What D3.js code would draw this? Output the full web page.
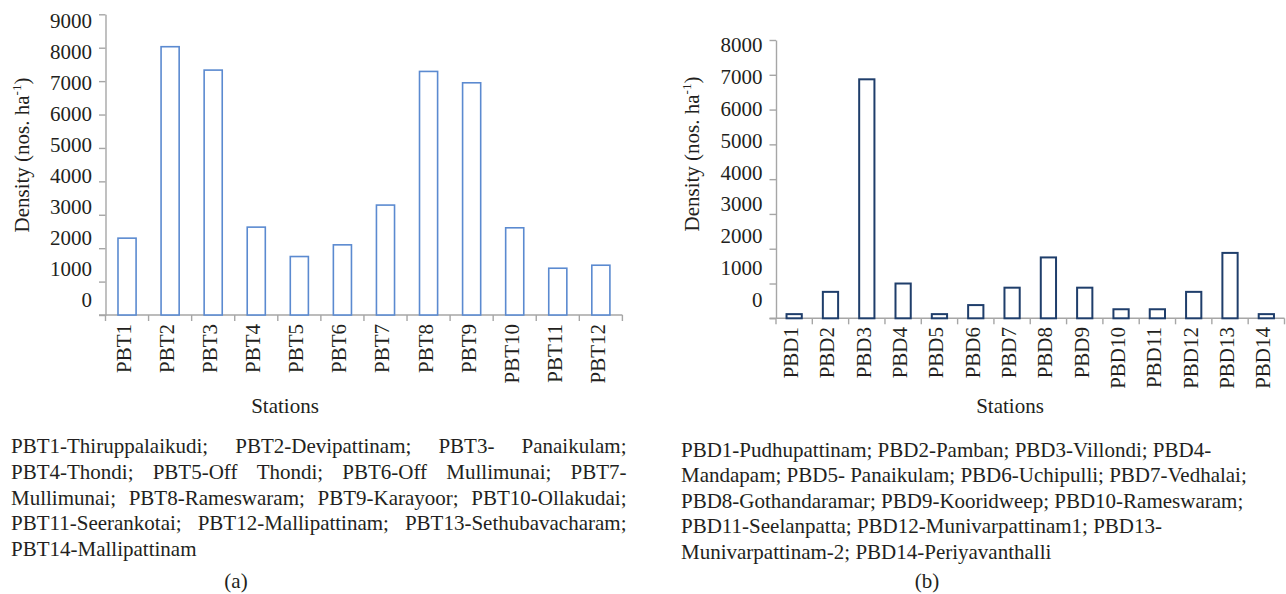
<!DOCTYPE html>
<html>
<head>
<meta charset="utf-8">
<script src="https://cdn.jsdelivr.net/npm/d3@7"></script>
<style>
  body { margin: 0; background: #fff; }
  svg { display: block; font-family: "Liberation Serif", "Times New Roman", serif; }
</style>
</head>
<body>
<svg id="chart" width="1286" height="594"></svg>
<script>
// Panel (a) - PBT stations
const stationsA = ["PBT1", "PBT2", "PBT3", "PBT4", "PBT5", "PBT6", "PBT7", "PBT8", "PBT9", "PBT10", "PBT11", "PBT12"];
const densityA = [2300, 8030, 7330, 2630, 1750, 2100, 3290, 7290, 6950, 2610, 1400, 1490];
const yTicksA = [0, 1000, 2000, 3000, 4000, 5000, 6000, 7000, 8000, 9000];

// Panel (b) - PBD stations
const stationsB = ["PBD1", "PBD2", "PBD3", "PBD4", "PBD5", "PBD6", "PBD7", "PBD8", "PBD9", "PBD10", "PBD11", "PBD12", "PBD13", "PBD14"];
const densityB = [120, 760, 6870, 1000, 120, 380, 880, 1750, 880, 260, 260, 760, 1880, 120];
const yTicksB = [0, 1000, 2000, 3000, 4000, 5000, 6000, 7000, 8000];

const captionA = [
    "PBT1-Thiruppalaikudi; PBT2-Devipattinam; PBT3- Panaikulam;",
    "PBT4-Thondi; PBT5-Off Thondi; PBT6-Off Mullimunai; PBT7-",
    "Mullimunai; PBT8-Rameswaram; PBT9-Karayoor; PBT10-Ollakudai;",
    "PBT11-Seerankotai; PBT12-Mallipattinam; PBT13-Sethubavacharam;",
    "PBT14-Mallipattinam"
];
const captionB = [
    "PBD1-Pudhupattinam; PBD2-Pamban; PBD3-Villondi; PBD4-",
    "Mandapam; PBD5- Panaikulam; PBD6-Uchipulli; PBD7-Vedhalai;",
    "PBD8-Gothandaramar; PBD9-Kooridweep; PBD10-Rameswaram;",
    "PBD11-Seelanpatta; PBD12-Munivarpattinam1; PBD13-",
    "Munivarpattinam-2; PBD14-Periyavanthalli"
];

const textColor = "#231f20";
const axisColor = "#a6a6a6";
const fontSize = 21;

const svg = d3.select("#chart");

function drawPanel(opts) {
    const g = svg.append("g");

    const x = d3.scaleBand()
        .domain(opts.names)
        .range([opts.x0, opts.x1])
        .paddingInner(0.58)
        .paddingOuter(0.29);

    const y = d3.scaleLinear()
        .domain([0, d3.max(opts.ticks)])
        .range([opts.yBottom, opts.yTop]);

    // tick labels sit a bit off the tick marks in the original
    const yLabel = d3.scaleLinear()
        .domain([0, d3.max(opts.ticks)])
        .range([opts.labelBottom, opts.labelTop]);

    // y axis (tick marks only)
    const yAxis = g.append("g")
        .attr("transform", `translate(${opts.x0},0)`)
        .call(d3.axisLeft(y).tickValues(opts.ticks).tickSize(6.5).tickSizeOuter(0).tickFormat(""));
    yAxis.selectAll("path, line").attr("stroke", axisColor).attr("stroke-width", 1.4);

    g.selectAll(".ylab")
        .data(opts.ticks)
        .enter().append("text")
        .attr("class", "ylab")
        .attr("x", opts.x0 - 13.5)
        .attr("y", d => yLabel(d))
        .attr("text-anchor", "end")
        .style("font-size", fontSize + "px")
        .style("fill", textColor)
        .text(d => d);

    // x axis line and category boundary ticks
    const bounds = d3.range(opts.names.length + 1).map(i => opts.x0 + i * x.step());
    g.append("line")
        .attr("x1", opts.x0 - 6.5)
        .attr("x2", bounds[bounds.length - 1])
        .attr("y1", y(0))
        .attr("y2", y(0))
        .attr("stroke", axisColor)
        .attr("stroke-width", 1.4);
    g.selectAll(".xtick")
        .data(bounds)
        .enter().append("line")
        .attr("x1", d => d)
        .attr("x2", d => d)
        .attr("y1", y(0))
        .attr("y2", y(0) + 6)
        .attr("stroke", axisColor)
        .attr("stroke-width", 1.4);

    // bars
    g.selectAll(".bar")
        .data(opts.values)
        .enter().append("rect")
        .attr("class", "bar")
        .attr("x", (d, i) => x(opts.names[i]))
        .attr("width", x.bandwidth())
        .attr("y", d => y(d))
        .attr("height", d => y(0) - y(d))
        .attr("fill", "#fff")
        .attr("stroke", opts.barColor)
        .attr("stroke-width", opts.barStroke);

    // rotated station labels
    g.selectAll(".xlab")
        .data(opts.names)
        .enter().append("text")
        .attr("class", "xlab")
        .attr("transform", d => `translate(${x(d) + x.bandwidth() / 2 - 3},${opts.xLabelTop}) rotate(-90)`)
        .attr("dy", "0.33em")
        .attr("text-anchor", "end")
        .style("font-size", fontSize + "px")
        .style("fill", textColor)
        .text(d => d);

    // y axis title
    const yt = g.append("text")
        .attr("transform", `translate(${opts.yTitleX},${opts.yTitleY}) rotate(-90)`)
        .attr("text-anchor", "middle")
        .style("font-size", fontSize + "px")
        .style("fill", textColor);
    yt.append("tspan").text("Density (nos. ha");
    yt.append("tspan").attr("dy", -8).style("font-size", "13px").text("-1");
    yt.append("tspan").attr("dy", 8).text(")");

    g.append("text")
        .attr("x", opts.stationsX)
        .attr("y", 413)
        .attr("text-anchor", "middle")
        .style("font-size", fontSize + "px")
        .style("fill", textColor)
        .text("Stations");
}

drawPanel({
    names: stationsA, values: densityA, ticks: yTicksA,
    x0: 105.5, x1: 622.4, yTop: 14.3, yBottom: 315,
    labelTop: 28.3, labelBottom: 307,
    barColor: "#5b8ad0", barStroke: 1.6,
    xLabelTop: 324, yTitleX: 29, yTitleY: 155, stationsX: 285
});

drawPanel({
    names: stationsB, values: densityB, ticks: yTicksB,
    x0: 776, x1: 1284.5, yTop: 40, yBottom: 318.3,
    labelTop: 51.7, labelBottom: 307.3,
    barColor: "#1f3e6b", barStroke: 2,
    xLabelTop: 327, yTitleX: 699, yTitleY: 154, stationsX: 1010
});

// caption (a): justified lines, last line left aligned
function justifiedCaption(lines, left, right, top, lineH) {
    lines.forEach((line, li) => {
        const words = line.split(" ");
        const baseY = top + li * lineH;
        const nodes = words.map(w => svg.append("text")
            .attr("y", baseY)
            .style("font-size", fontSize + "px")
            .style("fill", textColor)
            .text(w));
        const widths = nodes.map(n => n.node().getComputedTextLength());
        const total = d3.sum(widths);
        const last = li === lines.length - 1;
        const gap = last ? fontSize * 0.25 : (right - left - total) / (words.length - 1);
        let cx = left;
        nodes.forEach((n, i) => {
            n.attr("x", cx);
            cx += widths[i] + gap;
        });
    });
}

justifiedCaption(captionA, 11, 626.5, 453, 25.75);

svg.selectAll(".capB")
    .data(captionB)
    .enter().append("text")
    .attr("class", "capB")
    .attr("x", 681)
    .attr("y", (d, i) => 456.5 + i * 25.5)
    .style("font-size", fontSize + "px")
    .style("fill", textColor)
    .text(d => d);

svg.append("text")
    .attr("x", 236).attr("y", 588)
    .attr("text-anchor", "middle")
    .style("font-size", fontSize + "px")
    .style("fill", textColor)
    .text("(a)");

svg.append("text")
    .attr("x", 927).attr("y", 588)
    .attr("text-anchor", "middle")
    .style("font-size", fontSize + "px")
    .style("fill", textColor)
    .text("(b)");
</script>
</body>
</html>
